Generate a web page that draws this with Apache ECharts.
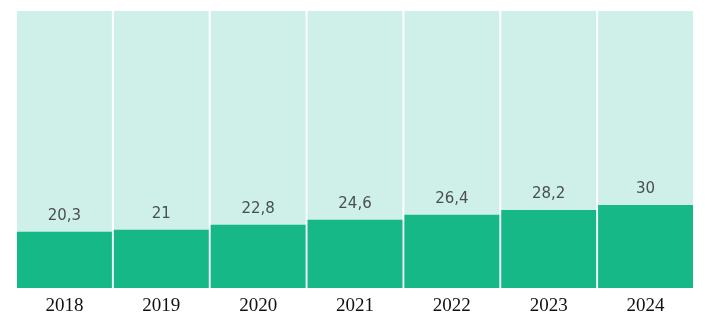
<!DOCTYPE html>
<html>
<head>
<meta charset="utf-8">
<script src="https://cdn.jsdelivr.net/npm/echarts@6/dist/echarts.min.js"></script>
<style>
  html, body { margin: 0; padding: 0; background: #fff; }
  #chart { width: 705px; height: 314px; }
</style>
</head>
<body>
<div id="chart"></div>
<script>
const years = ['2018', '2019', '2020', '2021', '2022', '2023', '2024']
const values = [20.3, 21, 22.8, 24.6, 26.4, 28.2, 30]

const chart = echarts.init(document.getElementById('chart'))

chart.setOption({
  animation: false,
  grid: { left: 16, right: 11, top: 11, bottom: 26, outerBoundsMode: 'none' },
  xAxis: {
    type: 'category',
    data: years,
    axisLine: { show: false },
    axisTick: { show: false },
    axisLabel: {
      color: '#111',
      fontFamily: 'Liberation Serif',
      fontSize: 19,
      margin: 9
    }
  },
  yAxis: {
    type: 'value',
    min: 0,
    max: 100,
    show: false
  },
  series: [{
    type: 'bar',
    data: values,
    barCategoryGap: '2%',
    showBackground: true,
    backgroundStyle: { color: '#cff0e8' },
    itemStyle: { color: '#15b886' },
    label: {
      show: true,
      position: 'top',
      distance: 8,
      color: '#4a4f4e',
      fontFamily: 'DejaVu Sans',
      fontSize: 15,
      formatter: p => String(p.value).replace('.', ',')
    }
  }]
})

window.addEventListener('resize', () => chart.resize())
</script>
</body>
</html>
